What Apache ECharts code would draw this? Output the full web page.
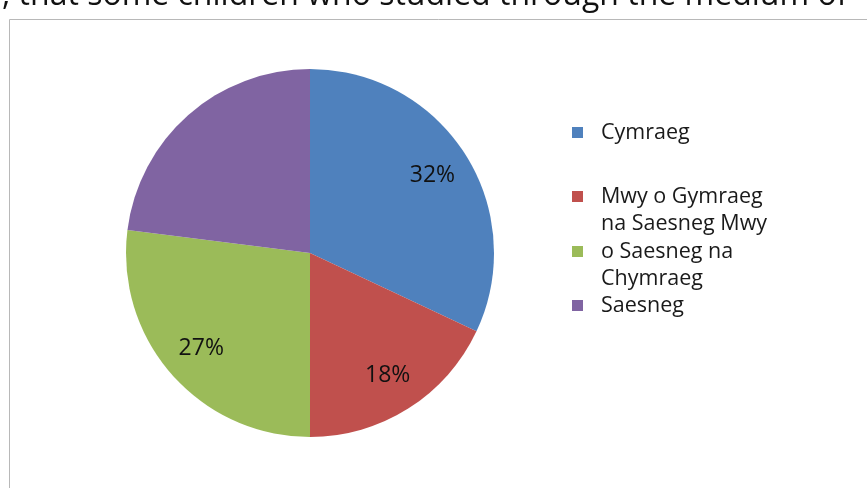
<!DOCTYPE html>
<html>
<head>
<meta charset="utf-8">
<script src="https://cdn.jsdelivr.net/npm/echarts@6/dist/echarts.min.js"></script>
<style>
html, body { margin: 0; padding: 0; background: #fff; }
#chart { width: 867px; height: 488px; }
</style>
</head>
<body>
<div id="chart"></div>
<script>
// data
var names = ['Cymraeg', 'Mwy o Gymraeg na Saesneg', 'Mwy o Saesneg na Chymraeg', 'Saesneg'];
var values = [32, 18, 27, 23];
var showLabel = [true, true, true, false];
var colors = ['#4f81bd', '#c0504d', '#9bbb59', '#8064a2'];
// legend text wrapped the way the picture wraps it
var legendText = ['Cymraeg', '\nMwy o Gymraeg\nna Saesneg Mwy', '\no Saesneg na\nChymraeg', 'Saesneg'];
var legendTop = [119, 156, 211, 292];
var topText = ', that some children who studied through the medium of';

var font = '"Open Sans", sans-serif';
var chart = echarts.init(document.getElementById('chart'));

var pieData = [], labelData = [], legends = [];
for (var i = 0; i < names.length; i++) {
	pieData.push({ name: names[i], value: values[i], itemStyle: { color: colors[i] } });
	labelData.push({ name: names[i], value: values[i], label: { show: showLabel[i] } });
	legends.push({
		data: [names[i]],
		left: 572,
		top: legendTop[i],
		padding: 0,
		orient: 'vertical',
		icon: 'rect',
		itemWidth: 11,
		itemHeight: 11,
		selectedMode: false,
		formatter: (function (t) { return function () { return t; }; })(legendText[i]),
		textStyle: {
			fontFamily: font,
			fontSize: 21.5,
			lineHeight: 27,
			color: '#1a1a1a',
			padding: [0, 0, 0, 13]
		}
	});
}

var option = {
	backgroundColor: '#fff',
	animation: false,
	legend: legends,
	graphic: [{
		type: 'rect',
		shape: { x: 9.5, y: 19.5, width: 900, height: 500 },
		style: { fill: 'none', stroke: '#b8b8b8', lineWidth: 1 },
		silent: true
	}, {
		type: 'text',
		left: 2,
		top: -20,
		style: { text: topText, fontFamily: font, fontSize: 32, fill: '#111' },
		silent: true
	}],
	series: [{
		type: 'pie',
		center: [310, 253],
		radius: [0, 184],
		startAngle: 90,
		clockwise: true,
		label: { show: false },
		labelLine: { show: false },
		emphasis: { disabled: true },
		data: pieData
	}, {
		// transparent ring only for placing the percent labels
		type: 'pie',
		center: [310, 253],
		radius: [100, 184],
		startAngle: 90,
		clockwise: true,
		silent: true,
		itemStyle: { color: 'rgba(0,0,0,0)' },
		label: {
			show: true,
			position: 'inside',
			formatter: '{c}%',
			fontFamily: font,
			fontSize: 23,
			color: '#111'
		},
		labelLine: { show: false },
		emphasis: { disabled: true },
		data: labelData
	}]
};
chart.setOption(option);
</script>
</body>
</html>
